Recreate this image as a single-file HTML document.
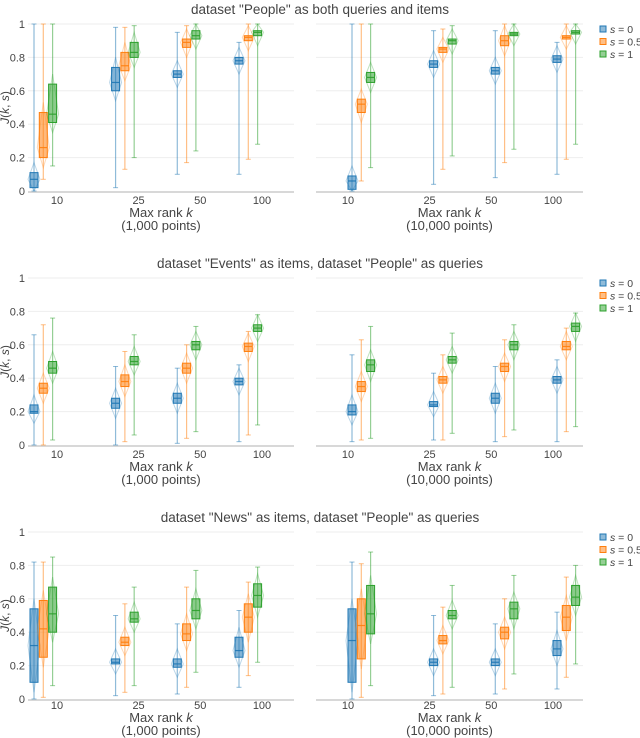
<!DOCTYPE html>
<html><head><meta charset="utf-8"><style>
body{margin:0;background:#fff;}
svg{display:block;font-family:"Liberation Sans",sans-serif;}
</style></head><body>
<svg id="chart" width="640" height="738" viewBox="0 0 640 738"></svg>
<script>
const categories = [10, 25, 50, 100];
const seriesNames = ["s = 0", "s = 0.5", "s = 1"];
const yTicks = [0, 0.2, 0.4, 0.6, 0.8, 1];
const yTickLabels = ["0", "0.2", "0.4", "0.6", "0.8", "1"];
const titles = ['dataset "People" as both queries and items', 'dataset "Events" as items, dataset "People" as queries', 'dataset "News" as items, dataset "People" as queries'];
const panelSubtitles = ["(1,000 points)", "(10,000 points)"];
// [min, q1, median, q3, max] per panel -> category -> series
const r1left = [
 [[0,.02,.07,.11,1],[.07,.2,.26,.47,1],[.15,.41,.46,.64,1]],
 [[.02,.6,.65,.74,.98],[.13,.72,.75,.83,.98],[.2,.8,.83,.89,.99]],
 [[.1,.68,.7,.72,.95],[.17,.86,.89,.91,.99],[.24,.91,.93,.96,1]],
 [[.1,.76,.78,.8,.89],[.19,.9,.92,.93,1],[.28,.93,.95,.96,1]]];
const r1right = [
 [[0,.01,.06,.09,1],[.06,.47,.52,.55,1],[.14,.65,.68,.71,1]],
 [[.04,.74,.76,.78,.96],[.13,.83,.85,.86,.97],[.21,.88,.9,.91,.99]],
 [[.08,.7,.72,.74,.96],[.17,.87,.9,.93,1],[.25,.93,.94,.95,1]],
 [[.1,.77,.79,.81,.89],[.19,.91,.92,.93,1],[.28,.94,.95,.96,1]]];
const r2left = [
 [[0,.19,.2,.24,.66],[0,.31,.34,.37,.72],[.03,.43,.46,.5,.76]],
 [[0,.22,.25,.28,.47],[.02,.35,.38,.42,.56],[.06,.48,.5,.53,.66]],
 [[.01,.25,.28,.31,.46],[.04,.43,.46,.49,.6],[.08,.57,.6,.62,.71]],
 [[.02,.36,.38,.4,.48],[.06,.56,.59,.61,.68],[.12,.68,.7,.72,.78]]];
const r2right = [
 [[.02,.18,.2,.24,.54],[.03,.32,.35,.38,.63],[.04,.44,.48,.51,.71]],
 [[.03,.23,.24,.26,.43],[.03,.37,.39,.41,.54],[.07,.49,.51,.53,.67]],
 [[.02,.25,.28,.31,.47],[.05,.44,.47,.49,.63],[.09,.57,.6,.62,.72]],
 [[.02,.37,.39,.41,.51],[.08,.57,.59,.62,.7],[.11,.68,.71,.73,.79]]];
const r3left = [
 [[0,.1,.32,.54,.82],[.01,.25,.42,.59,.82],[.08,.4,.51,.67,.85]],
 [[.02,.21,.22,.24,.5],[.04,.32,.34,.37,.57],[.08,.46,.48,.52,.67]],
 [[.03,.19,.21,.24,.45],[.07,.35,.39,.45,.67],[.16,.48,.53,.6,.77]],
 [[.07,.25,.29,.37,.53],[.14,.4,.49,.57,.7],[.22,.55,.62,.69,.79]]];
const r3right = [
 [[0,.1,.35,.54,.82],[.01,.24,.44,.6,.81],[.08,.39,.51,.68,.88]],
 [[.02,.2,.22,.24,.5],[.03,.33,.35,.38,.55],[.07,.48,.5,.53,.68]],
 [[.03,.2,.22,.24,.45],[.06,.36,.4,.43,.6],[.15,.48,.54,.58,.74]],
 [[.06,.26,.3,.35,.52],[.13,.41,.49,.56,.73],[.21,.56,.61,.68,.8]]];
const panelData = [[r1left, r1right],[r2left, r2right],[r3left, r3right]];

const colors = ["#1f77b4","#ff7f0e","#2ca02c"];
const rowTop = [24, 278, 532];
const labelShift = [0, 0, -3];
const plotH = 167;
const panels = [{x0:28,x1:294,c0:57,off:-23},{x0:316,x1:583,c0:348,off:4}];
const NS = "http://www.w3.org/2000/svg";
const svg = document.getElementById("chart");
function mk(tag, attrs, parent){const e=document.createElementNS(NS,tag);for(const k in attrs)e.setAttribute(k,attrs[k]);(parent||svg).appendChild(e);return e;}
function xScale(p,k){return p.c0 + 205*Math.log10(k/10);}

panelData.forEach((row, ri)=>{
  const top = rowTop[ri];
  const ls = labelShift[ri];
  const y = v => top + plotH*(1-v);
  const t = mk("text",{x:320,y:top-10,"text-anchor":"middle","font-size":"13.5",fill:"#444"});
  
  
  t.textContent = titles[ri];
  seriesNames.forEach((s,si)=>{
    const ly = top + 6 + si*12.5;
    const r = mk("rect",{x:600,y:ly-4,width:6,height:6,fill:colors[si],"fill-opacity":0.5,stroke:colors[si]});
    
    
    const lt = mk("text",{x:610,y:ly+3,"font-size":"10.5",fill:"#444"});
    
    
    lt.innerHTML = '<tspan font-style="italic">s</tspan>'+s.slice(1);
  });
  row.forEach((data, pi)=>{
    const p = panels[pi];
    const g = mk("g",{});
    
    
    yTicks.forEach((v,i)=>{
      if(v>0){const gl=mk("line",{x1:p.x0,x2:p.x1,y1:y(v),y2:y(v),stroke:"#eee","stroke-width":1},g);
      }
      if(pi===0){const tl=mk("text",{x:25,y:y(v)+4,"text-anchor":"end","font-size":"11",fill:"#444"},g);
      tl.textContent=yTickLabels[i];}
    });
    const ax = mk("line",{x1:p.x0,x2:p.x1,y1:y(0)+1,y2:y(0)+1,stroke:"#ccc","stroke-width":1.5},g);
    
    if(pi===0){
      const yt = mk("text",{x:6,y:top+plotH/2,"text-anchor":"middle","font-size":"12",fill:"#444",transform:`rotate(-90 6 ${top+plotH/2})`,"dominant-baseline":"middle"},g);
      
      yt.innerHTML='<tspan font-style="italic">J</tspan>(<tspan font-style="italic">k</tspan>, <tspan font-style="italic">s</tspan>)';
    }
    categories.forEach((k,ci)=>{
      const cx = xScale(p,k);
      const tl = mk("text",{x:cx,y:y(0)+13+ls,"text-anchor":"middle","font-size":"11",fill:"#444"},g);
      tl.textContent=k;
      data[ci].forEach((b,si)=>{
        const bx = cx + p.off + si*9.3;
        const c = colors[si];
        const bg = mk("g",{},g);
        
        
        const dlo=Math.max(0,b[1]-0.06), dhi=Math.min(1,b[3]+0.06);
        mk("polygon",{points:`${bx},${y(dhi)} ${bx+6},${y(b[2])} ${bx},${y(dlo)} ${bx-6},${y(b[2])}`,fill:"none",stroke:c,"stroke-opacity":0.3,"stroke-width":1},bg);
        mk("line",{x1:bx,x2:bx,y1:y(b[4]),y2:y(b[0]),stroke:c,"stroke-opacity":0.5,"stroke-width":1.2},bg);
        mk("line",{x1:bx-2.5,x2:bx+2.5,y1:y(b[4]),y2:y(b[4]),stroke:c,"stroke-opacity":0.5},bg);
        mk("line",{x1:bx-2.5,x2:bx+2.5,y1:y(b[0]),y2:y(b[0]),stroke:c,"stroke-opacity":0.5},bg);
        mk("rect",{x:bx-4,y:y(b[3]),width:8,height:Math.max(1,y(b[1])-y(b[3])),fill:c,"fill-opacity":0.55,stroke:c,"stroke-width":1},bg);
        mk("line",{x1:bx-4,x2:bx+4,y1:y(b[2]),y2:y(b[2]),stroke:c,"stroke-width":1.2,"stroke-opacity":0.9},bg);
      });
    });
    const mid = (p.x0+p.x1)/2;
    const xt = mk("text",{x:mid,y:y(0)+26+ls,"text-anchor":"middle","font-size":"13",fill:"#444"},g);
    
    xt.innerHTML='Max rank <tspan font-style="italic">k</tspan>';
    const xs = mk("text",{x:mid,y:y(0)+39+ls,"text-anchor":"middle","font-size":"13",fill:"#444"},g);
    
    xs.textContent=panelSubtitles[pi];
  });
});
</script>
</body></html>
